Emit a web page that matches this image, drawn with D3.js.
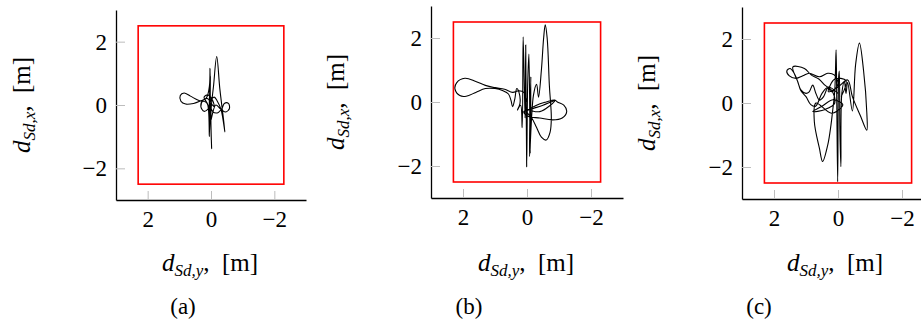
<!DOCTYPE html>
<html>
<head>
<meta charset="utf-8">
<script src="https://cdn.jsdelivr.net/npm/d3@7"></script>
<style>
  body { margin: 0; background: #fff; }
  svg { display: block; }
  text { font-family: "Liberation Serif", "DejaVu Serif", serif; }
  .tick line { stroke: #bdbdbd; }
  .domain { stroke: #000; stroke-width: 1.3; }
  .tick text { font-size: 23px; fill: #000; font-family: "Liberation Serif", "DejaVu Serif", serif; }
</style>
</head>
<body>
<svg id="chart" width="921" height="324"></svg>
<script>
// axis ticks and captions
const tickValues = [2, 0, -2];
const captions = ["(a)", "(b)", "(c)"];
// safety box, [dy, dx] in m
const boxY = [-2.3, 2.3];
const boxX = [-2.5, 2.5];

// trajectories as [d_Sd,y, d_Sd,x]
const trajA = [
  [0, 0], [0.1, 0.2], [0.25, 0.15], [0.32, -0.05], [0.22, -0.2], [0.08, -0.1],
  [0.15, 0.08], [0.4, 0.15], [0.65, 0.28], [0.85, 0.38], [0.97, 0.3], [0.95, 0.12],
  [0.8, 0.03], [0.55, 0.05], [0.35, 0.12], [0.15, 0.22], [0.05, 0.6], [0.03, 1.16],
  [0.02, 0.0], [-0.02, -1.38], [0.0, -0.2], [-0.08, 0.6], [-0.18, 1.53], [-0.28, 0.5],
  [-0.44, -0.85], [-0.32, -0.15], [-0.2, 0.12], [-0.1, 0.25], [0.02, 0.1], [-0.05, -0.2],
  [-0.2, -0.25], [-0.35, -0.1], [-0.42, 0.05], [-0.55, 0.05], [-0.58, -0.12], [-0.45, -0.22],
  [-0.3, -0.12], [-0.15, 0.0], [0.04, -0.6], [0.02, 0.9], [0.05, -1.0], [0.1, 0.0],
  [0.22, 0.25], [0.1, 0.32], [-0.05, 0.15], [-0.1, -0.05], [0.0, 0.05]
];
const trajB = [
  [0.0, 0.0], [0.1, 0.3], [0.25, 0.35], [0.45, 0.3], [0.7, 0.4], [1.0, 0.45],
  [1.3, 0.52], [1.6, 0.64], [1.94, 0.74], [2.2, 0.6], [2.25, 0.4], [2.1, 0.2],
  [1.9, 0.18], [1.6, 0.3], [1.3, 0.42], [1.0, 0.42], [0.75, 0.35], [0.58, 0.25],
  [0.5, 0.05], [0.45, -0.15], [0.38, 0.1], [0.32, 0.42], [0.25, 0.3], [0.22, -0.05],
  [0.3, -0.25], [0.2, -0.1], [0.15, -0.8], [0.12, 2.04], [0.06, -0.5], [0.04, 1.78],
  [0.01, -2.02], [-0.02, 0.5], [-0.06, 1.5], [-0.1, -1.6], [-0.12, 0.79], [-0.08, -1.7],
  [-0.2, 0.2], [-0.3, 0.55], [-0.36, 0.15], [-0.45, 1.0], [-0.52, 2.0], [-0.57, 2.41],
  [-0.63, 2.0], [-0.7, 0.5], [-0.76, -0.5], [-0.72, -0.95], [-0.6, -1.19], [-0.45, -1.1],
  [-0.3, -0.8], [-0.15, -0.5], [0.0, -0.3], [-0.3, -0.1], [-0.6, 0.0], [-0.87, 0.06],
  [-0.95, 0.0], [-1.15, -0.1], [-1.24, -0.3], [-1.1, -0.5], [-0.8, -0.56], [-0.4, -0.5],
  [-0.05, -0.45], [0.1, -0.3], [-0.2, -0.2], [-0.5, -0.1], [-0.87, 0.04], [-0.4, -0.3],
  [0.05, -0.2]
];
const trajC = [
  [0.0, 0.3], [0.3, 0.5], [0.5, 0.3], [0.7, -0.1], [0.85, -0.05], [1.0, 0.2],
  [1.16, 0.38], [1.26, 0.67], [1.37, 0.93], [1.5, 1.08], [1.6, 1.0], [1.52, 0.85],
  [1.31, 0.77], [1.1, 0.85], [0.9, 0.93], [0.58, 0.82], [0.32, 0.93], [0.12, 0.88],
  [0.0, 0.6], [0.2, 0.35], [0.32, 0.46], [0.45, 0.2], [0.58, 0.09], [0.69, 0.3],
  [0.79, 0.56], [0.9, 0.35], [1.0, 0.3], [1.16, 0.41], [1.26, 0.67], [1.41, 1.13],
  [1.05, 1.08], [0.84, 0.88], [0.6, 0.75], [0.4, 0.55], [0.2, 0.4], [0.1, 0.0],
  [0.4, -0.2], [0.79, -0.27], [0.5, -0.1], [0.15, 0.1], [-0.15, -0.05], [0.2, -0.32],
  [0.69, 0.0], [0.74, -0.58], [0.58, -1.42], [0.48, -1.83], [0.32, -1.31], [0.22, -0.69],
  [0.17, -0.27], [0.1, 0.4], [0.06, 1.66], [0.04, 0.2], [0.01, -2.46], [-0.02, 0.8],
  [-0.04, 1.0], [-0.06, -0.9], [-0.09, -1.99], [-0.12, 0.3], [-0.2, 0.67], [-0.25, 0.3],
  [-0.3, 0.65], [-0.45, -0.25], [-0.55, 1.2], [-0.67, 1.87], [-0.8, 1.0], [-0.9, -0.3],
  [-0.9, -0.85], [-0.7, -0.4], [-0.45, 0.2], [-0.3, 0.72], [0.0, 0.5], [0.3, 0.35],
  [0.1, 0.75], [-0.25, 0.7], [-0.1, 0.2]
];
const trajectories = [trajA, trajB, trajC];

// panel placement
const panels = [
  {left: 116, top: 10, size: 190, xlab: 210, ylab: 22, cap: 183},
  {left: 431, top: 6, size: 192, xlab: 526, ylab: 336, cap: 469},
  {left: 742, top: 7, size: 192, xlab: 835, ylab: 647, cap: 759}
];

const svg = d3.select("#chart");
const fmt = d3.format("d");

function axisLabel(sel, sub) {
  sel.append("tspan").attr("font-style", "italic").text("d");
  sel.append("tspan").attr("font-style", "italic").attr("font-size", 17)
    .attr("dy", 5).text(sub);
  sel.append("tspan").attr("dy", -5).text(",\u2002[m]");
}

panels.forEach((p, i) => {
  const x = d3.scaleLinear().domain([3, -3]).range([p.left, p.left + p.size]);
  const y = d3.scaleLinear().domain([-3, 3]).range([p.top + p.size, p.top]);
  const g = svg.append("g");

  g.append("g")
    .attr("transform", "translate(" + p.left + ",0)")
    .call(d3.axisLeft(y).tickValues(tickValues).tickFormat(fmt)
      .tickSizeInner(-9).tickSizeOuter(0).tickPadding(9));
  g.append("g")
    .attr("transform", "translate(0," + (p.top + p.size) + ")")
    .call(d3.axisBottom(x).tickValues(tickValues).tickFormat(fmt)
      .tickSizeInner(-9).tickSizeOuter(0).tickPadding(11));

  g.append("rect")
    .attr("x", x(boxY[1]))
    .attr("y", y(boxX[1]))
    .attr("width", x(boxY[0]) - x(boxY[1]))
    .attr("height", y(boxX[0]) - y(boxX[1]))
    .attr("fill", "none")
    .attr("stroke", "#ff0000")
    .attr("stroke-width", 1.6);

  g.append("path")
    .datum(trajectories[i])
    .attr("d", d3.line()
      .x(d => x(d[0]))
      .y(d => y(d[1]))
      .curve(d3.curveCatmullRom.alpha(0.5)))
    .attr("fill", "none")
    .attr("stroke", "#000")
    .attr("stroke-width", 1.1);

  const cy = p.top + p.size / 2;
  g.append("text")
    .attr("transform", "translate(" + (p.ylab + 8) + "," + cy + ") rotate(-90)")
    .attr("text-anchor", "middle")
    .attr("font-size", 25)
    .call(axisLabel, "Sd,x");
  g.append("text")
    .attr("x", p.xlab)
    .attr("y", 271)
    .attr("text-anchor", "middle")
    .attr("font-size", 25)
    .call(axisLabel, "Sd,y");
  g.append("text")
    .attr("x", p.cap)
    .attr("y", 314)
    .attr("text-anchor", "middle")
    .attr("font-size", 23)
    .text(captions[i]);
});
</script>
</body>
</html>
